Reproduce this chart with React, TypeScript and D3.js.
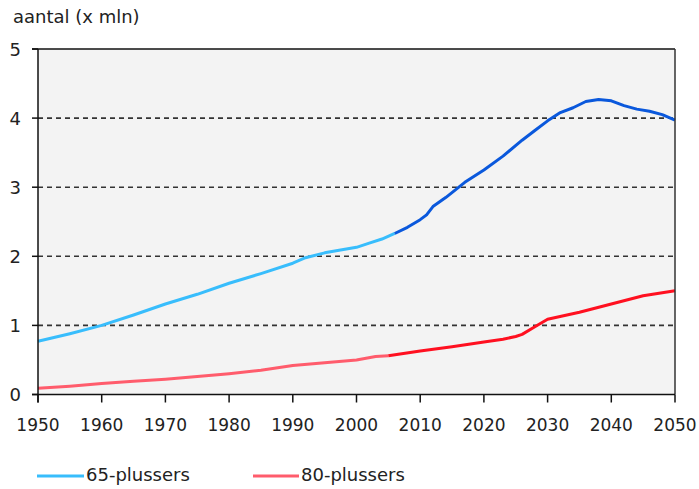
import * as d3 from "d3";

// 65-plussers (x mln), observed and projection
const years65Obs = [1950, 1955, 1960, 1965, 1970, 1975, 1980, 1985, 1990, 1992, 1995, 2000, 2002, 2004, 2006];
const values65Obs = [0.77, 0.88, 1.0, 1.15, 1.31, 1.45, 1.61, 1.75, 1.9, 1.98, 2.05, 2.13, 2.19, 2.25, 2.33];
const years65Proj = [2006, 2008, 2010, 2011, 2012, 2014, 2017, 2020, 2023, 2026, 2028, 2030, 2032, 2034, 2036, 2038, 2040, 2042, 2044, 2046, 2048, 2050];
const values65Proj = [2.33, 2.42, 2.53, 2.6, 2.72, 2.85, 3.07, 3.25, 3.45, 3.68, 3.82, 3.96, 4.08, 4.15, 4.24, 4.27, 4.25, 4.18, 4.13, 4.1, 4.05, 3.97];

// 80-plussers (x mln)
const years80Obs = [1950, 1955, 1960, 1965, 1970, 1975, 1980, 1985, 1990, 1995, 2000, 2003, 2005];
const values80Obs = [0.09, 0.12, 0.16, 0.19, 0.22, 0.26, 0.3, 0.35, 0.42, 0.46, 0.5, 0.55, 0.56];
const years80Proj = [2005, 2010, 2015, 2020, 2023, 2025, 2026, 2028, 2030, 2035, 2040, 2045, 2050];
const values80Proj = [0.56, 0.63, 0.69, 0.76, 0.8, 0.84, 0.87, 0.98, 1.09, 1.19, 1.31, 1.43, 1.5];

const xTicks = [1950, 1960, 1970, 1980, 1990, 2000, 2010, 2020, 2030, 2040, 2050];
const yTicks = [0, 1, 2, 3, 4, 5];
const legendLabels = ["65-plussers", "80-plussers"];

const W = 699;
const H = 489;
const FONT = "'DejaVu Sans', sans-serif";

export default function App() {
  const x = d3.scaleLinear().domain([1950, 2050]).range([38, 675]);
  const y = d3.scaleLinear().domain([0, 5]).range([394.5, 49]);

  const line = (xs: number[], vs: number[]) =>
    d3.line<number>().x((_, i) => x(xs[i])).y((v) => y(v))(vs) || "";

  const series = [
    { d: line(years65Obs, values65Obs), color: "#38bdfc" },
    { d: line(years65Proj, values65Proj), color: "#0a58dc" },
    { d: line(years80Obs, values80Obs), color: "#ff5c6c" },
    { d: line(years80Proj, values80Proj), color: "#ff1020" },
  ];

  return (
    <svg width={W} height={H} style={{ position: "absolute", left: 0, top: 0, background: "#fff" }}>
      <text x={13} y={23} fontFamily={FONT} fontSize={18} fill="#222">aantal (x mln)</text>

      <rect x={x(1950)} y={y(5)} width={x(2050) - x(1950)} height={y(0) - y(5)} fill="#f3f3f3" />

      {yTicks.filter((t) => t > 0 && t < 5).map((t) => (
        <line key={t} x1={x(1950)} x2={x(2050)} y1={y(t)} y2={y(t)} stroke="#333" strokeWidth={1.6} strokeDasharray="5,4" />
      ))}

      {series.map((s, i) => (
        <path key={i} d={s.d} fill="none" stroke={s.color} strokeWidth={3} strokeLinejoin="round" />
      ))}

      {/* frame */}
      <line x1={32} x2={x(2050)} y1={y(5)} y2={y(5)} stroke="#111" strokeWidth={1.5} />
      <line x1={x(2050)} x2={x(2050)} y1={y(5)} y2={y(0)} stroke="#333" strokeWidth={1.5} />
      <line x1={x(1950)} x2={x(1950)} y1={y(5)} y2={y(0) + 8} stroke="#111" strokeWidth={1.5} />
      <line x1={32} x2={x(2050)} y1={y(0)} y2={y(0)} stroke="#111" strokeWidth={1.5} />

      {yTicks.map((t) => (
        <g key={t}>
          <line x1={32} x2={x(1950)} y1={y(t)} y2={y(t)} stroke="#111" strokeWidth={1.5} />
          <text x={21} y={y(t) + 6.5} textAnchor="end" fontFamily={FONT} fontSize={18} fill="#222">{t}</text>
        </g>
      ))}

      {xTicks.map((t) => (
        <g key={t}>
          <line x1={x(t)} x2={x(t)} y1={y(0)} y2={y(0) + 8} stroke="#111" strokeWidth={1.5} />
          <text x={x(t)} y={431} textAnchor="middle" fontFamily={FONT} fontSize={17} fill="#222">{t}</text>
        </g>
      ))}

      {/* legend */}
      <line x1={37} x2={84} y1={476} y2={476} stroke="#38bdfc" strokeWidth={3} />
      <text x={86} y={481} fontFamily={FONT} fontSize={18} fill="#222">{legendLabels[0]}</text>
      <line x1={253} x2={299} y1={476} y2={476} stroke="#ff5c6c" strokeWidth={3} />
      <text x={301} y={481} fontFamily={FONT} fontSize={18} fill="#222">{legendLabels[1]}</text>
    </svg>
  );
}
